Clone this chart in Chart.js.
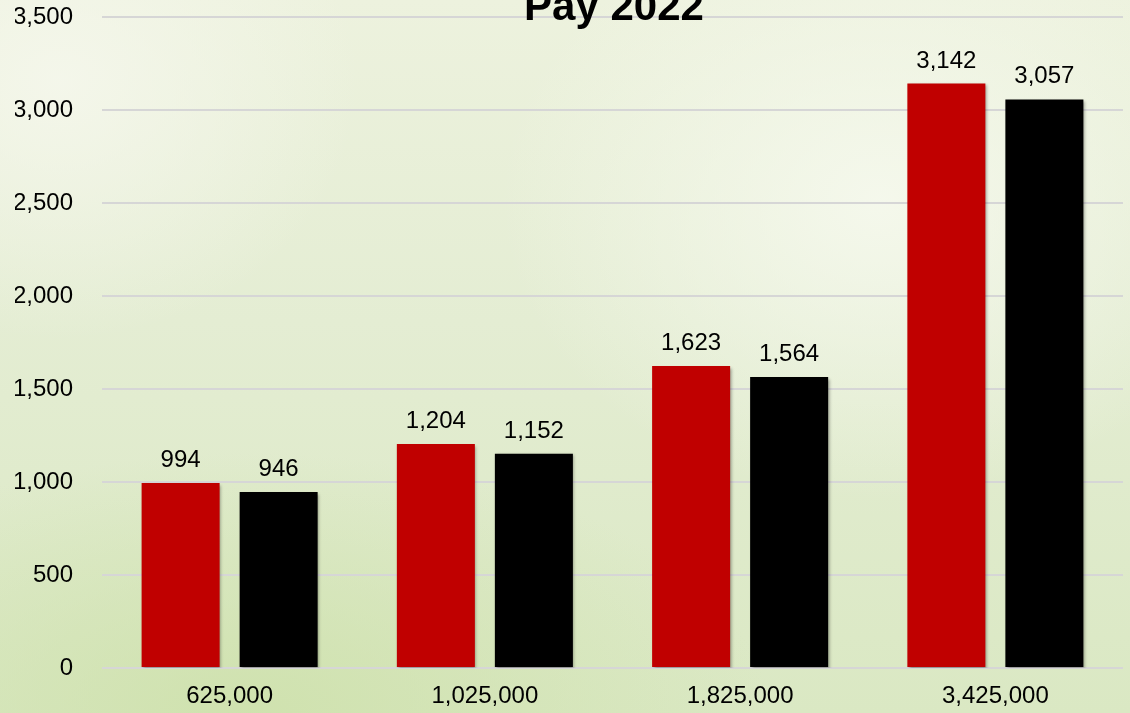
<!DOCTYPE html>
<html>
<head>
<meta charset="utf-8">
<title>Pay 2022</title>
<script src="https://cdn.jsdelivr.net/npm/chart.js@4.4.1/dist/chart.umd.min.js"></script>
<style>
  html, body { margin: 0; padding: 0; }
  body {
    width: 1130px;
    height: 713px;
    overflow: hidden;
    background:
      radial-gradient(ellipse 380px 300px at 880px 200px, rgba(246,249,238,0.9), rgba(246,249,238,0) 100%),
      radial-gradient(ellipse 300px 260px at 60px 80px, rgba(245,247,236,0.9), rgba(245,247,236,0) 100%),
      radial-gradient(ellipse 520px 260px at 250px 713px, rgba(206,225,172,0.9), rgba(206,225,172,0) 100%),
      linear-gradient(180deg, #edf2de 0%, #e4edd3 45%, #dae8c3 100%);
  }
  #wrap { position: absolute; left: 0; top: 0; width: 1130px; height: 713px; }
</style>
</head>
<body>
<div id="wrap"><canvas id="canvas"></canvas></div>
<script>
// categories and the two series
var categories = ['625,000', '1,025,000', '1,825,000', '3,425,000'];
var redValues = [994, 1204, 1623, 3142];
var blackValues = [946, 1152, 1564, 3057];
var yTicks = [0, 500, 1000, 1500, 2000, 2500, 3000, 3500];

var font = 'Arial, "Liberation Sans", sans-serif';

function fmt(v) {
    return v.toLocaleString('en-US');
}

// value above every bar
var barLabels = {
    id: 'barLabels',
    afterDatasetsDraw: function (chart) {
        var ctx = chart.ctx;
        ctx.save();
        ctx.font = '24px ' + font;
        ctx.fillStyle = '#000';
        ctx.textAlign = 'center';
        ctx.textBaseline = 'alphabetic';
        chart.data.datasets.forEach(function (ds, i) {
            chart.getDatasetMeta(i).data.forEach(function (bar, j) {
                ctx.fillText(fmt(ds.data[j]), bar.x, bar.y - 16);
            });
        });
        ctx.restore();
    }
};

// bold heading, its top runs off the canvas
var heading = {
    id: 'heading',
    afterDraw: function (chart) {
        var ctx = chart.ctx;
        ctx.save();
        ctx.font = 'bold 42px ' + font;
        ctx.fillStyle = '#000';
        ctx.textAlign = 'center';
        ctx.textBaseline = 'alphabetic';
        ctx.fillText('Pay 2022', 614, 20);
        ctx.restore();
    }
};

// soft shadow under the bars
var barShadow = {
    id: 'barShadow',
    beforeDatasetsDraw: function (chart) {
        var ctx = chart.ctx;
        ctx.save();
        ctx.shadowColor = 'rgba(0,0,0,0.35)';
        ctx.shadowBlur = 3;
        ctx.shadowOffsetX = 1.5;
        ctx.shadowOffsetY = 1.5;
    },
    afterDatasetsDraw: function (chart) {
        chart.ctx.restore();
    }
};

var ctx = document.getElementById('canvas').getContext('2d');
var myChart = new Chart(ctx, {
    type: 'bar',
    data: {
        labels: categories,
        datasets: [{
            label: 'Red',
            data: redValues,
            backgroundColor: '#c00000',
            borderWidth: 0,
            categoryPercentage: 0.768,
            barPercentage: 0.796
        }, {
            label: 'Black',
            data: blackValues,
            backgroundColor: '#000000',
            borderWidth: 0,
            categoryPercentage: 0.768,
            barPercentage: 0.796
        }]
    },
    plugins: [barShadow, barLabels, heading],
    options: {
        responsive: true,
        maintainAspectRatio: false,
        animation: false,
        layout: {
            padding: { left: 15, right: 7, top: 17, bottom: 0 }
        },
        plugins: {
            legend: { display: false },
            tooltip: { enabled: false }
        },
        scales: {
            x: {
                afterFit: function (axis) { axis.height = 45; },
                grid: { display: false, drawTicks: false },
                border: { display: false },
                ticks: {
                    color: '#000',
                    padding: 14,
                    font: { family: font, size: 24 }
                }
            },
            y: {
                min: 0,
                max: 3500,
                afterBuildTicks: function (axis) {
                    axis.ticks = yTicks.map(function (v) { return { value: v }; });
                },
                afterFit: function (axis) {
                    axis.width = 87;
                    axis.paddingTop = 0;
                    axis.paddingBottom = 0;
                },
                grid: { color: '#d6d6d6', lineWidth: 2, drawTicks: false },
                border: { display: false },
                ticks: {
                    color: '#000',
                    padding: 29,
                    font: { family: font, size: 24 },
                    callback: function (v) { return fmt(v); }
                }
            }
        }
    }
});
</script>
</body>
</html>
